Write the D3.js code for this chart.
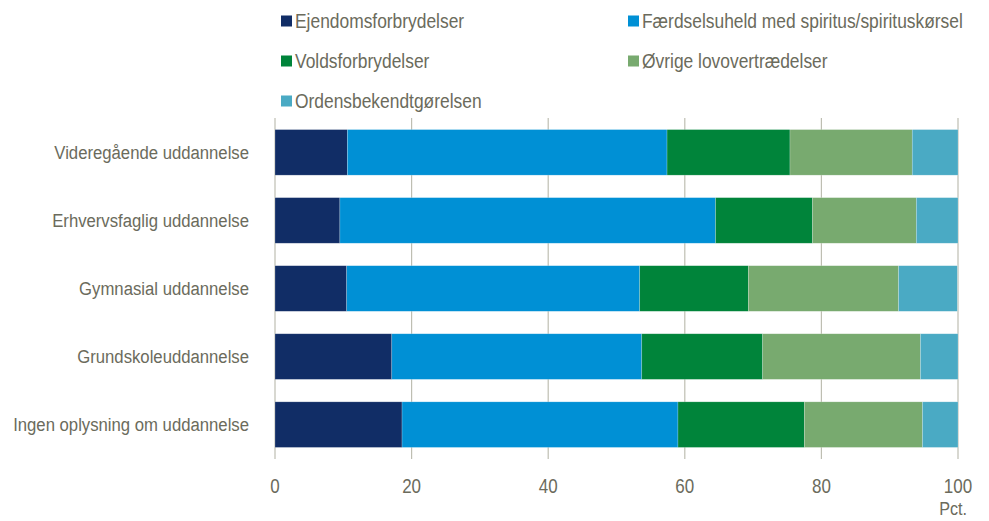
<!DOCTYPE html>
<html>
<head>
<meta charset="utf-8">
<script src="https://cdn.jsdelivr.net/npm/d3@7"></script>
<style>
  body { margin: 0; background: #fff; }
  text { font-family: "Liberation Sans", Arial, sans-serif; fill: #6b6b5c; }
</style>
</head>
<body>
<div id="chart"></div>
<script>
// categories, top to bottom
var categories = [
  "Videregående uddannelse",
  "Erhvervsfaglig uddannelse",
  "Gymnasial uddannelse",
  "Grundskoleuddannelse",
  "Ingen oplysning om uddannelse"
];

var seriesNames = [
  "Ejendomsforbrydelser",
  "Færdselsuheld med spiritus/spirituskørsel",
  "Voldsforbrydelser",
  "Øvrige lovovertrædelser",
  "Ordensbekendtgørelsen"
];

var colors = ["#112d66", "#0090d5", "#00843a", "#78aa6f", "#4aaac4"];

// pct per series, one value per category
var ejendom = [10.6, 9.5, 10.5, 17.1, 18.6];
var faerdsel = [46.8, 55.0, 42.9, 36.6, 40.4];
var vold = [18.0, 14.2, 15.9, 17.7, 18.5];
var oevrige = [17.9, 15.2, 22.0, 23.1, 17.3];
var orden = [6.7, 6.1, 8.6, 5.5, 5.2];

var xTicks = [0, 20, 40, 60, 80, 100];

var svgWidth = 989;
var svgHeight = 521;

var margin = { top: 118, right: 31, bottom: 62, left: 275 };
var width = svgWidth - margin.left - margin.right;
var height = svgHeight - margin.top - margin.bottom;

var svg = d3.select("#chart")
  .append("svg")
  .attr("width", svgWidth)
  .attr("height", svgHeight);

var chartGroup = svg.append("g")
  .attr("transform", `translate(${margin.left}, ${margin.top})`);

// build rows for the stack
var allSeries = [ejendom, faerdsel, vold, oevrige, orden];
var rows = categories.map(function(c, i) {
  var row = { cat: c };
  seriesNames.forEach(function(s, j) { row[s] = allSeries[j][i]; });
  return row;
});

var stack = d3.stack().keys(seriesNames);
var stacked = stack(rows);

var xScale = d3.scaleLinear().domain([0, 100]).range([0, width]);
var yScale = d3.scaleBand().domain(categories).range([0, height]).paddingInner(0.33).paddingOuter(0.17);

// gridlines
chartGroup.selectAll(".grid")
  .data(xTicks)
  .enter()
  .append("line")
  .attr("x1", d => xScale(d))
  .attr("x2", d => xScale(d))
  .attr("y1", 0)
  .attr("y2", height)
  .attr("stroke", "#bebeb2")
  .attr("stroke-width", 1.2);

// bars
chartGroup.selectAll(".series")
  .data(stacked)
  .enter()
  .append("g")
  .attr("fill", (d, i) => colors[i])
  .selectAll("rect")
  .data(d => d)
  .enter()
  .append("rect")
  .attr("x", d => xScale(d[0]))
  .attr("y", d => yScale(d.data.cat))
  .attr("width", d => xScale(d[1]) - xScale(d[0]))
  .attr("height", yScale.bandwidth())
  .attr("stroke", "rgba(255,255,255,0.35)")
  .attr("stroke-width", 0.6);

// the original font is a bit condensed, so texts get squeezed sideways
function squeeze(x, y, s) {
  return `translate(${x}, ${y}) scale(${s}, 1)`;
}

// category labels
chartGroup.selectAll(".cat")
  .data(categories)
  .enter()
  .append("text")
  .attr("transform", d => squeeze(-26, yScale(d) + yScale.bandwidth() / 2 + 6.5, 0.88))
  .attr("text-anchor", "end")
  .attr("font-size", "19px")
  .text(d => d);

// x tick labels
chartGroup.selectAll(".tick-label")
  .data(xTicks)
  .enter()
  .append("text")
  .attr("transform", d => squeeze(xScale(d), height + 34, 0.85))
  .attr("text-anchor", "middle")
  .attr("font-size", "20px")
  .text(d => d);

chartGroup.append("text")
  .attr("transform", squeeze(width + 9, height + 56, 0.85))
  .attr("text-anchor", "end")
  .attr("font-size", "19px")
  .text("Pct.");

// legend
var legendPos = [[281, 21], [628, 21], [281, 61], [628, 61], [281, 101]];
var legend = svg.selectAll(".legend")
  .data(seriesNames)
  .enter()
  .append("g")
  .attr("transform", (d, i) => `translate(${legendPos[i][0]}, ${legendPos[i][1]})`);

legend.append("rect")
  .attr("x", 0)
  .attr("y", -5.5)
  .attr("width", 11)
  .attr("height", 11)
  .attr("fill", (d, i) => colors[i]);

legend.append("text")
  .attr("transform", squeeze(14, 7.2, 0.87))
  .attr("font-size", "20px")
  .text(d => d);
</script>
</body>
</html>
